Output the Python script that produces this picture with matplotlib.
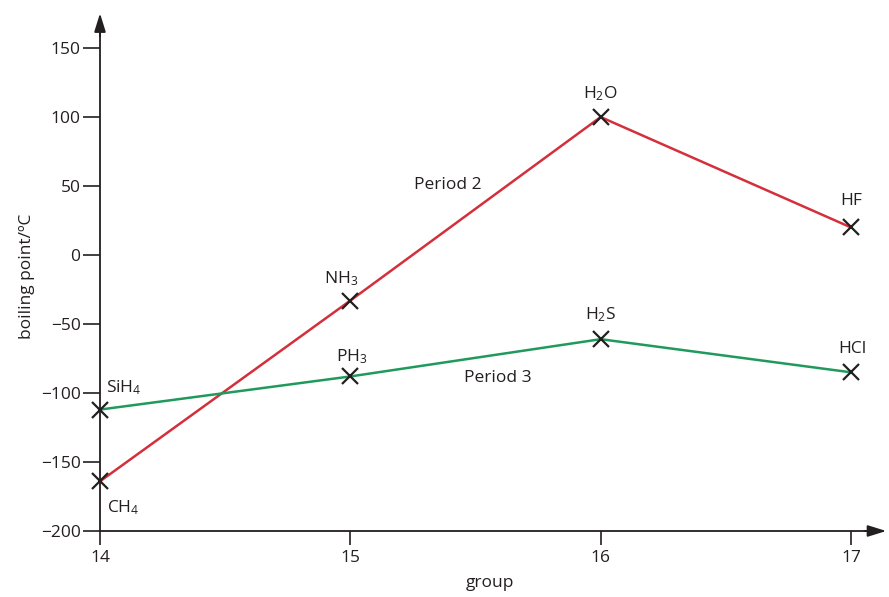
import matplotlib
matplotlib.use("Agg")
import matplotlib.pyplot as plt
import matplotlib as mpl

mpl.rcParams['font.family'] = ['Open Sans', 'DejaVu Sans']
mpl.rcParams['mathtext.fontset'] = 'custom'
mpl.rcParams['mathtext.rm'] = 'Open Sans'
mpl.rcParams['mathtext.default'] = 'rm'
mpl.rcParams['font.size'] = 12.5

groups = [14, 15, 16, 17]
period2_bp = [-164, -33, 100, 20]
period3_bp = [-112, -88, -61, -85]
period2_names = [r"CH$_4$", r"NH$_3$", r"H$_2$O", "HF"]
period3_names = [r"SiH$_4$", r"PH$_3$", r"H$_2$S", "HCl"]
yticks = [-200, -150, -100, -50, 0, 50, 100, 150]

RED = "#d3303c"
GREEN = "#1f9a5c"
INK = "#231f20"

fig = plt.figure(figsize=(8.89, 5.97), dpi=100)
ax = fig.add_axes([100 / 889, 66 / 597, 780 / 889, 510 / 597])

ax.plot(groups, period2_bp, "-", color=RED, lw=1.8, zorder=2)
ax.plot(groups, period3_bp, "-", color=GREEN, lw=1.8, zorder=2)
ax.plot(groups, period2_bp, "x", color=INK, ms=11.5, mew=1.6, clip_on=False, zorder=3)
ax.plot(groups, period3_bp, "x", color=INK, ms=11.5, mew=1.6, clip_on=False, zorder=3)

# compound labels, offsets in points from each marker
off2 = [(5, -19, "left"), (-7, 16, "center"), (0, 17, "center"), (0, 19, "center")]
off3 = [(4, 16, "left"), (1, 14, "center"), (0, 18, "center"), (1, 17, "center")]
for x, y, name, (dx, dy, ha) in zip(groups, period2_bp, period2_names, off2):
    ax.annotate(name, (x, y), xytext=(dx, dy), textcoords="offset points",
                ha=ha, va="center", color=INK)
for x, y, name, (dx, dy, ha) in zip(groups, period3_bp, period3_names, off3):
    ax.annotate(name, (x, y), xytext=(dx, dy), textcoords="offset points",
                ha=ha, va="center", color=INK)

ax.text(15.39, 51, "Period 2", ha="center", va="center", color=INK)
ax.text(15.59, -89, "Period 3", ha="center", va="center", color=INK)

ax.set_xlim(14, 17.116)
ax.set_ylim(-200, 169.6)
ax.set_xticks(groups)
ax.set_yticks(yticks)
ax.set_yticklabels([f"{t}".replace("-", "\u2212") for t in yticks])

for s in ["top", "right"]:
    ax.spines[s].set_visible(False)
for s in ["left", "bottom"]:
    ax.spines[s].set_linewidth(1.3)
    ax.spines[s].set_color(INK)

ax.tick_params(axis="y", direction="out", length=12, width=1.2, pad=2, colors=INK)
ax.tick_params(axis="x", direction="out", length=10, width=1.2, pad=4, colors=INK)

# arrow heads on the axes
head = dict(arrowstyle="-|>,head_length=0.9,head_width=0.28", color=INK, lw=1.3,
            shrinkA=0, shrinkB=0)
ax.annotate("", xy=(1.008, 0), xytext=(0.98, 0), xycoords="axes fraction",
            arrowprops=head, annotation_clip=False)
ax.annotate("", xy=(0, 1.015), xytext=(0, 0.97), xycoords="axes fraction",
            arrowprops=head, annotation_clip=False)

ax.set_xlabel("group", labelpad=6, color=INK)
ax.set_ylabel("boiling point/ºC", labelpad=4, color=INK)

fig.savefig("out.png", dpi=100)
